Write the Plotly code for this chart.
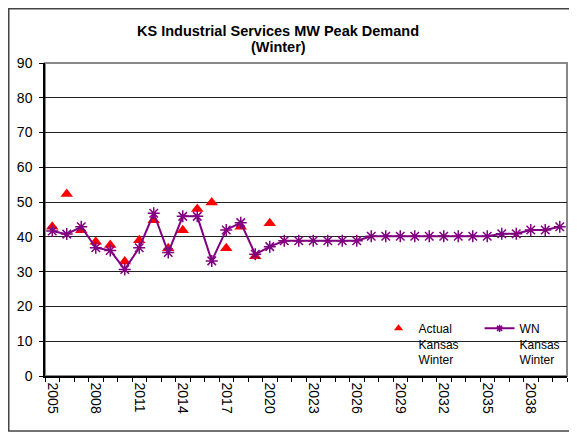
import plotly.graph_objects as go

# Years on the category axis
years = list(range(2005, 2041))
actual_years = list(range(2005, 2021))

# Actual Kansas Winter peak demand (MW)
actual_mw = [42.9, 52.3, 41.9, 38.6, 37.7, 32.9, 39.0, 44.8, 36.7, 41.9,
             48.0, 49.9, 36.7, 42.9, 34.4, 43.9]

# Weather normalized Kansas Winter peak demand (MW)
wn_mw = [41.7, 40.8, 42.9, 36.9, 36.1, 30.6, 36.9, 46.8, 35.5, 45.9,
         45.9, 33.1, 42.0, 44.1, 35.0, 37.2, 38.9, 38.9, 38.9, 38.9,
         38.9, 38.9, 40.2, 40.2, 40.2, 40.2, 40.2, 40.2, 40.2, 40.2,
         40.2, 40.9, 40.9, 42.0, 42.0, 42.9]

tick_years = [2005, 2008, 2011, 2014, 2017, 2020, 2023, 2026, 2029, 2032, 2035, 2038]

title_lines = ["KS Industrial Services MW Peak Demand", "(Winter)"]

fig = go.Figure()

fig.add_trace(go.Scatter(
    x=actual_years, y=actual_mw,
    mode="markers", showlegend=False,
    marker=dict(symbol="triangle-up", color="#FF0000", size=11),
))

fig.add_trace(go.Scatter(
    x=years, y=wn_mw,
    mode="lines+markers", showlegend=False,
    line=dict(color="#800080", width=2),
    marker=dict(symbol="asterisk-open", color="#800080", size=10,
                line=dict(color="#800080", width=1.5)),
))

# legend entries (smaller symbols, like the original)
fig.add_trace(go.Scatter(
    x=[None], y=[None], mode="markers",
    name="Actual<br>Kansas<br>Winter",
    marker=dict(symbol="triangle-up", color="#FF0000", size=8),
))
fig.add_trace(go.Scatter(
    x=[None], y=[None], mode="lines+markers",
    name="WN<br>Kansas<br>Winter",
    line=dict(color="#800080", width=2),
    marker=dict(symbol="asterisk-open", color="#800080", size=6,
                line=dict(color="#800080", width=1.5)),
))

# page has an 8px body margin, so the figure is sized/shifted to compensate
fig.update_layout(
    width=569, height=425,
    margin=dict(l=37, r=10, t=55, b=57, autoexpand=False),
    paper_bgcolor="white",
    plot_bgcolor="white",
    font=dict(family="Liberation Sans, Arial, sans-serif", color="black", size=14),
    legend=dict(
        orientation="h",
        x=0.639, xanchor="left", y=0.198, yanchor="top",
        bgcolor="rgba(0,0,0,0)",
        font=dict(size=12),
        valign="top",
        itemwidth=30,
        entrywidth=56,
    ),
    annotations=[
        dict(text="<b>" + title_lines[0] + "</b>", xref="paper", yref="paper",
             x=0.447, y=1.1022, xanchor="center", yanchor="middle",
             showarrow=False, font=dict(size=14.5)),
        dict(text="<b>" + title_lines[1] + "</b>", xref="paper", yref="paper",
             x=0.447, y=1.0511, xanchor="center", yanchor="middle",
             showarrow=False, font=dict(size=14.5)),
    ],
    shapes=[
        dict(type="rect", xref="paper", yref="paper", x0=0, x1=1, y0=0, y1=1,
             line=dict(color="#888888", width=2), layer="below"),
        dict(type="rect", xref="paper", yref="paper", x0=-0.0694, x1=1.05,
             y0=-0.1757, y1=1.1733, line=dict(color="#444444", width=1.5)),
    ],
)

fig.update_xaxes(
    range=[2004.5, 2040.5],
    tickmode="array", tickvals=tick_years,
    ticktext=[str(y) for y in tick_years],
    tickangle=90,
    ticks="",
    ticklabelstandoff=2,
    showgrid=False, zeroline=False,
    showline=True, linecolor="black", linewidth=1.5,
    minor=dict(tick0=2004.5, dtick=1, ticks="outside", ticklen=4,
               tickcolor="black", showgrid=False),
    tickfont=dict(size=14),
)

fig.update_yaxes(
    range=[0, 90], dtick=10,
    ticks="outside", ticklen=4, tickcolor="black",
    ticklabelstandoff=4,
    showgrid=True, gridcolor="#222222", gridwidth=1,
    zeroline=False,
    showline=True, linecolor="black", linewidth=1.5,
    tickfont=dict(size=14),
)

fig.write_html("out.html")
